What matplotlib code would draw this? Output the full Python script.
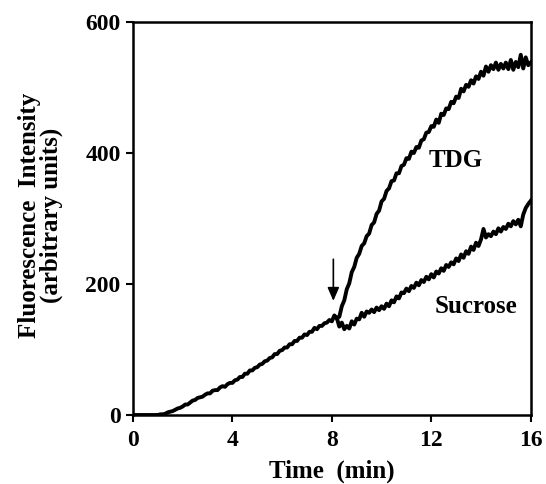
import numpy as np
import matplotlib.pyplot as plt

plt.rcParams['font.family'] = ['Liberation Serif', 'DejaVu Serif']
plt.rcParams['font.weight'] = 'bold'

# Time points (min)
t_common = np.round(np.arange(1.0, 8.25, 0.1), 1)
t_after = np.round(np.arange(8.3, 16.05, 0.1), 1)

# Fluorescence before the addition (shared trace)
f_common = [0, 1, 1, 2, 4, 5, 6, 8, 10, 11,
            13, 16, 16, 19, 22, 23, 26, 27, 28, 31,
            33, 33, 37, 38, 38, 42, 44, 43, 47, 49,
            49, 53, 54, 58, 58, 63, 63, 68, 68, 72,
            73, 77, 78, 82, 83, 87, 88, 93, 93, 98,
            99, 103, 103, 108, 108, 113, 113, 118, 118, 123,
            122, 127, 127, 133, 131, 136, 136, 140, 141, 145,
            143, 152, 148]

# After addition: TDG
f_tdg = [150, 166, 175, 192, 201, 218, 226,
         240, 246, 258, 262, 273, 277, 290, 294, 307, 312,
         326, 330, 342, 346, 357, 358, 369, 369, 380, 382,
         392, 391, 402, 400, 409, 408, 419, 421, 431, 432,
         441, 440, 451, 446, 460, 458, 468, 467, 478, 476,
         486, 484, 498, 494, 504, 501, 511, 506, 517, 513,
         524, 518, 532, 524, 534, 528, 538, 527, 536, 529,
         538, 528, 542, 527, 539, 531, 550, 529, 546, 534,
         538]

# After addition: Sucrose
f_suc = [135, 141, 131, 136, 132, 143, 138,
         147, 146, 156, 150, 158, 156, 161, 157, 164, 160,
         166, 162, 170, 166, 175, 172, 181, 178, 187, 186,
         193, 189, 197, 194, 202, 198, 206, 203, 211, 207,
         215, 210, 219, 216, 224, 220, 229, 226, 233, 230,
         239, 235, 245, 240, 250, 246, 257, 252, 263, 258,
         268, 284, 271, 276, 273, 280, 276, 285, 280, 287,
         284, 292, 288, 296, 291, 298, 288, 306, 316, 322,
         327]

t_start = [0, 0.5, 1.0]
f_start = [0, 0, 0]

fig = plt.figure(figsize=(5.46, 4.84), dpi=100)
ax = fig.add_axes([0.2436, 0.1426, 0.7284, 0.812])

lw = 2.8
ax.plot(t_start, f_start, color='black', lw=lw)
ax.plot(t_common, f_common, color='black', lw=lw)
t_tdg = np.concatenate([[t_common[-1]], t_after])
ax.plot(t_tdg, [f_common[-1]] + f_tdg, color='black', lw=lw)
ax.plot(t_tdg, [f_common[-1]] + f_suc, color='black', lw=lw)

# arrow marking the addition
ax.annotate('', xy=(8.06, 170), xytext=(8.06, 242),
            arrowprops=dict(arrowstyle='-|>,head_length=0.8,head_width=0.35',
                            color='black', lw=1.2))

ax.text(13.0, 388, 'TDG', fontsize=18, fontweight='bold', ha='center', va='center')
ax.text(13.8, 165, 'Sucrose', fontsize=18, fontweight='bold', ha='center', va='center')

ax.set_xlim(0, 16)
ax.set_ylim(0, 600)
ax.set_xticks([0, 4, 8, 12, 16])
ax.set_yticks([0, 200, 400, 600])
ax.tick_params(direction='out', length=5, width=1.5, labelsize=17, pad=4)
ax.tick_params(axis='x', pad=6)
for lab in ax.get_xticklabels() + ax.get_yticklabels():
    lab.set_fontweight('bold')
for sp in ax.spines.values():
    sp.set_linewidth(1.8)

fig.text(0.6075, 0.026, 'Time  (min)', fontsize=18, fontweight='bold',
         ha='center', va='center')
fig.text(0.074, 0.556, 'Fluorescence  Intensity\n(arbitrary units)', fontsize=18,
         fontweight='bold', rotation=90, ha='center', va='center',
         linespacing=0.95, multialignment='center')

fig.savefig('out.png', dpi=100)
